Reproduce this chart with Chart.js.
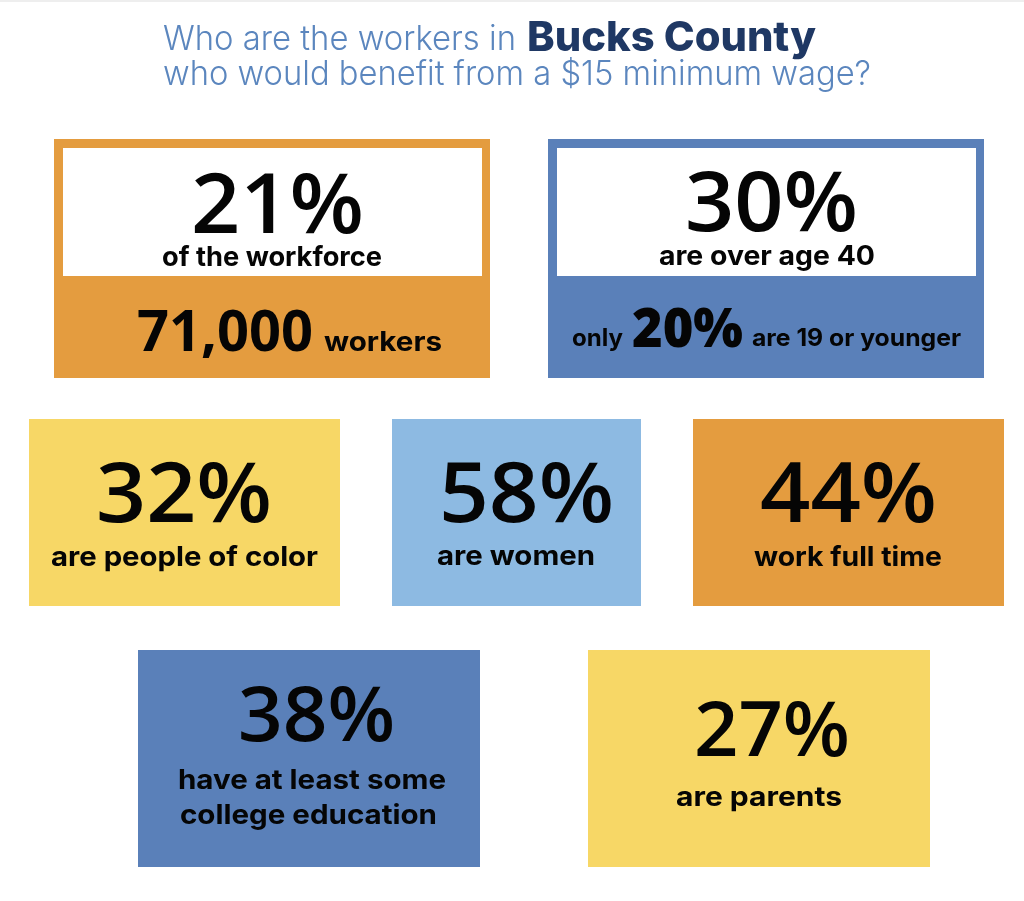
<!DOCTYPE html>
<html>
<head>
<meta charset="utf-8">
<title>Bucks County workers</title>
<script src="https://cdn.jsdelivr.net/npm/chart.js@4/dist/chart.umd.min.js"></script>
<style>
    html, body { margin: 0; padding: 0; background: #fff; }
    canvas { display: block; }
</style>
</head>
<body>
<canvas id="myChart" width="1024" height="901"></canvas>
<script>
// Chart values
const statValues = [21, 30, 32, 58, 44, 38, 27];
const statLabels = [
    ['of the workforce'],
    ['are over age 40'],
    ['are people of color'],
    ['are women'],
    ['work full time'],
    ['have at least some', 'college education'],
    ['are parents']
];
const workerCount = '71,000';
const youngShare = 20;
const titleParts = ['Who are the workers in', 'Bucks County', 'who would benefit from a $15 minimum wage?'];

// Colours
const ORANGE = '#e49c3f';
const BLUE = '#5a80b9';
const YELLOW = '#f7d766';
const LIGHT_BLUE = '#8dbae2';
const NAVY = '#1f3864';
const TITLE_BLUE = '#5b86be';
const INK = '#050505';

// Layout, in scale units (the scales match the page size)
const cardBoxes = [
    { x0: 54, x1: 490, y0: 139, y1: 378, color: ORANGE, inner: [63, 482, 148, 276] },
    { x0: 548, x1: 984, y0: 139, y1: 378, color: BLUE, inner: [557, 976, 148, 276] },
    { x0: 29, x1: 340, y0: 419, y1: 606, color: YELLOW },
    { x0: 392, x1: 641, y0: 419, y1: 606, color: LIGHT_BLUE },
    { x0: 693, x1: 1004, y0: 419, y1: 606, color: ORANGE },
    { x0: 138, x1: 480, y0: 650, y1: 867, color: BLUE },
    { x0: 588, x1: 930, y0: 650, y1: 867, color: YELLOW }
];
const valueSlots = [
    { x0: 191, x1: 364, base: 233, size: 84 },
    { x0: 685, x1: 858, base: 231, size: 84 },
    { x0: 96, x1: 272, base: 522, size: 84 },
    { x0: 439, x1: 614, base: 522, size: 84 },
    { x0: 760, x1: 937, base: 522, size: 84 },
    { x0: 238, x1: 395, base: 741, size: 76 },
    { x0: 694, x1: 850, base: 756, size: 76 }
];
const labelSlots = [
    [{ x0: 162, x1: 382, base: 266 }],
    [{ x0: 659, x1: 875, base: 265 }],
    [{ x0: 51, x1: 318, base: 566 }],
    [{ x0: 437, x1: 595, base: 565 }],
    [{ x0: 754, x1: 942, base: 566 }],
    [{ x0: 178, x1: 446, base: 789 }, { x0: 180, x1: 437, base: 824 }],
    [{ x0: 676, x1: 842, base: 806 }]
];

const NUM_FONT = '"Open Sans"';
const LABEL_FONT = 'Inter';

// Fit a string between two scale values by stretching it sideways
function drawFitted(chart, text, slot, weight, size, family, color) {
    const ctx = chart.ctx;
    const left = chart.scales.x.getPixelForValue(slot.x0);
    const right = chart.scales.x.getPixelForValue(slot.x1);
    ctx.save();
    ctx.font = weight + ' ' + size + 'px ' + family;
    ctx.fillStyle = color;
    ctx.textAlign = 'left';
    ctx.textBaseline = 'alphabetic';
    const natural = ctx.measureText(text).width;
    ctx.translate(left, chart.scales.y.getPixelForValue(slot.base));
    ctx.scale((right - left) / natural, 1);
    ctx.fillText(text, 0, 0);
    ctx.restore();
}

function fillBox(chart, x0, x1, y0, y1, color) {
    const sx = chart.scales.x;
    const sy = chart.scales.y;
    const left = sx.getPixelForValue(x0);
    const top = sy.getPixelForValue(y0);
    chart.ctx.fillStyle = color;
    chart.ctx.fillRect(left, top, sx.getPixelForValue(x1) - left, sy.getPixelForValue(y1) - top);
}

// Cards and their text are drawn on the chart's scales
const cardsPlugin = {
    id: 'cards',
    beforeDatasetsDraw(chart) {
        fillBox(chart, 0, 1024, 0, 2, '#eeeeee');

        drawFitted(chart, titleParts[0], { x0: 163, x1: 516, base: 50 }, 300, 34, LABEL_FONT, TITLE_BLUE);
        drawFitted(chart, titleParts[1], { x0: 527, x1: 816, base: 51 }, 800, 41, LABEL_FONT, NAVY);
        drawFitted(chart, titleParts[2], { x0: 163, x1: 871, base: 85 }, 300, 34, LABEL_FONT, TITLE_BLUE);

        cardBoxes.forEach((box, i) => {
            fillBox(chart, box.x0, box.x1, box.y0, box.y1, box.color);
            if (box.inner) {
                fillBox(chart, box.inner[0], box.inner[1], box.inner[2], box.inner[3], '#ffffff');
            }
            drawFitted(chart, statValues[i] + '%', valueSlots[i], 600, valueSlots[i].size, NUM_FONT, INK);
            statLabels[i].forEach((line, j) => {
                drawFitted(chart, line, labelSlots[i][j], 700, 27, LABEL_FONT, INK);
            });
        });

        // Second rows of the two top cards
        drawFitted(chart, workerCount, { x0: 137, x1: 313, base: 351 }, 700, 57, NUM_FONT, INK);
        drawFitted(chart, 'workers', { x0: 324, x1: 442, base: 351 }, 700, 27, LABEL_FONT, INK);
        drawFitted(chart, 'only', { x0: 572, x1: 623, base: 346 }, 700, 24, LABEL_FONT, INK);
        drawFitted(chart, youngShare + '%', { x0: 632, x1: 743, base: 347 }, 800, 54, NUM_FONT, INK);
        drawFitted(chart, 'are 19 or younger', { x0: 752, x1: 961, base: 346 }, 700, 24, LABEL_FONT, INK);
    }
};

function renderChart() {
    const ctx = document.getElementById('myChart').getContext('2d');
    return new Chart(ctx, {
        type: 'scatter',
        data: {
            datasets: [{
                label: 'Share of workers',
                data: statValues.map((value, i) => ({
                    x: (cardBoxes[i].x0 + cardBoxes[i].x1) / 2,
                    y: (cardBoxes[i].y0 + cardBoxes[i].y1) / 2,
                    value: value
                })),
                pointRadius: 0
            }]
        },
        options: {
            responsive: false,
            animation: false,
            devicePixelRatio: 1,
            layout: { padding: 0 },
            plugins: { legend: { display: false }, tooltip: { enabled: false } },
            scales: {
                x: { type: 'linear', min: 0, max: 1024, display: false },
                y: { type: 'linear', min: 0, max: 901, reverse: true, display: false }
            }
        },
        plugins: [cardsPlugin]
    });
}

renderChart();
</script>
</body>
</html>
